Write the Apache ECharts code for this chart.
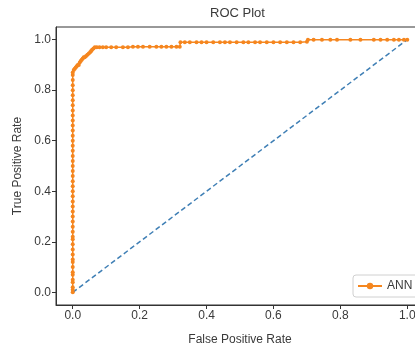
<!DOCTYPE html>
<html>
<head>
<meta charset="utf-8">
<script src="https://cdn.jsdelivr.net/npm/echarts@6/dist/echarts.min.js"></script>
<style>
  html, body { margin: 0; padding: 0; background: #fff; }
  #chart { width: 415px; height: 347px; }
</style>
</head>
<body>
<div id="chart"></div>
<script>
// ROC curve of the ANN model
// TPR values where FPR is still 0
const zeroFprTpr = [0.00, 0.01, 0.02, 0.04, 0.05, 0.07, 0.08, 0.10, 0.12, 0.13, 0.15, 0.17,
  0.19, 0.21, 0.22, 0.24, 0.26, 0.28, 0.30, 0.32, 0.34, 0.36, 0.38, 0.40, 0.42, 0.44,
  0.46, 0.48, 0.50, 0.52, 0.54, 0.56, 0.58, 0.60, 0.62, 0.64, 0.66, 0.68, 0.70, 0.72,
  0.74, 0.76, 0.78, 0.80, 0.82, 0.84, 0.86, 0.87];
// the rest of the curve
const stepFpr = [0.003, 0.006, 0.009, 0.012, 0.015, 0.018, 0.021, 0.024, 0.027, 0.030,
  0.033, 0.036, 0.040, 0.044, 0.048, 0.052, 0.055, 0.058, 0.062, 0.066, 0.072, 0.080,
  0.090, 0.100, 0.115, 0.130, 0.150, 0.165, 0.180, 0.195, 0.210, 0.230, 0.250, 0.265,
  0.280, 0.295, 0.310, 0.320, 0.322, 0.335, 0.350, 0.370, 0.385, 0.400, 0.420, 0.440,
  0.455, 0.470, 0.490, 0.510, 0.525, 0.545, 0.560, 0.580, 0.600, 0.620, 0.640, 0.660,
  0.680, 0.700, 0.703, 0.720, 0.745, 0.770, 0.790, 0.830, 0.860, 0.900, 0.920, 0.940,
  0.960, 0.975, 0.990, 1.000];
const stepTpr = [0.880, 0.885, 0.890, 0.895, 0.900, 0.900, 0.910, 0.915, 0.920, 0.925,
  0.930, 0.930, 0.935, 0.940, 0.945, 0.950, 0.955, 0.960, 0.965, 0.970, 0.970, 0.970,
  0.970, 0.970, 0.970, 0.970, 0.970, 0.970, 0.972, 0.972, 0.972, 0.972, 0.972, 0.972,
  0.972, 0.972, 0.972, 0.972, 0.990, 0.990, 0.990, 0.990, 0.990, 0.990, 0.990, 0.990,
  0.990, 0.990, 0.990, 0.990, 0.990, 0.990, 0.990, 0.990, 0.990, 0.990, 0.990, 0.990,
  0.990, 0.992, 1.000, 1.000, 1.000, 1.000, 1.000, 1.000, 1.000, 1.000, 1.000, 1.000,
  1.000, 1.000, 1.000, 1.000];
// chance diagonal
const diagFpr = [0, 1];
const diagTpr = [0, 1];
const tickValues = [0, 0.2, 0.4, 0.6, 0.8, 1.0];

const rocData = zeroFprTpr.map(t => [0, t])
  .concat(stepFpr.map((f, i) => [f, stepTpr[i]]));
const diagData = diagFpr.map((f, i) => [f, diagTpr[i]]);

const font = "Liberation Sans";
const textColor = "#3a3a3a";

function makeAxis(name, extra) {
  return Object.assign({
    type: "value",
    min: -0.05,
    max: 1.05,
    name: name,
    nameLocation: "middle",
    nameTextStyle: { fontFamily: font, fontSize: 12, color: textColor },
    splitLine: { show: false },
    axisLine: { show: true, onZero: false, lineStyle: { color: "#333", width: 1 } },
    axisTick: {
      show: true, inside: false, length: 4,
      customValues: tickValues,
      lineStyle: { color: "#333", width: 1 }
    },
    axisLabel: {
      customValues: tickValues,
      fontFamily: font, fontSize: 12, color: textColor, margin: 5,
      formatter: v => v.toFixed(1)
    }
  }, extra);
}

const chart = echarts.init(document.getElementById("chart"), null, { renderer: "canvas" });
chart.setOption({
  animation: false,
  backgroundColor: "#fff",
  title: {
    text: "ROC Plot",
    left: 210,
    top: 7,
    padding: 0,
    textStyle: { fontFamily: font, fontSize: 13, fontWeight: "normal", color: textColor }
  },
  grid: {
    left: 56, top: 27, width: 368, height: 278,
    outerBoundsMode: "none",
    containLabel: false,
    show: true, borderColor: "#333", borderWidth: 1, backgroundColor: "transparent"
  },
  legend: {
    data: ["ANN"],
    left: 353, top: 275,
    padding: [5, 6, 5, 4],
    itemWidth: 24, itemHeight: 8, itemGap: 6,
    borderColor: "#d0d0d0", borderWidth: 1, borderRadius: 3,
    backgroundColor: "#fff",
    textStyle: { fontFamily: font, fontSize: 12, color: textColor }
  },
  xAxis: makeAxis("False Positive Rate", { nameGap: 29 }),
  yAxis: makeAxis("True Positive Rate", { nameGap: 31 }),
  series: [
    {
      name: "chance",
      type: "line",
      data: diagData,
      showSymbol: false,
      symbol: "none",
      lineStyle: { color: "#3f7fb5", width: 1.5, type: [5, 3] },
      z: 2
    },
    {
      name: "ANN",
      type: "line",
      data: rocData,
      symbol: "circle",
      symbolSize: 4,
      showAllSymbol: true,
      itemStyle: { color: "#f5861f" },
      lineStyle: { color: "#f5861f", width: 1.5 },
      z: 3
    }
  ]
});
</script>
</body>
</html>
